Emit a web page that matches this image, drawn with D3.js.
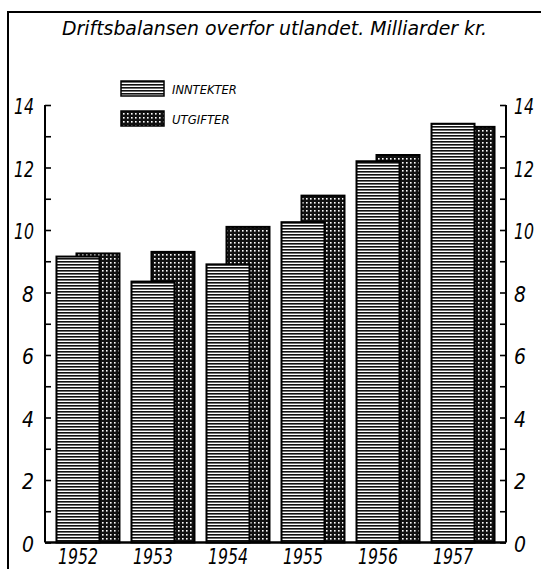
<!DOCTYPE html>
<html>
<head>
<meta charset="utf-8">
<script src="https://cdn.jsdelivr.net/npm/d3@7"></script>
<style>
  body { margin: 0; background: #fff; }
  text { font-family: "DejaVu Sans", sans-serif; font-style: oblique; fill: #000; }
</style>
</head>
<body>
<div id="chart"></div>
<script>
// data (milliarder kr.)
let years = ["1952", "1953", "1954", "1955", "1956", "1957"];
let inntekter = [9.15, 8.35, 8.9, 10.25, 12.2, 13.4];
let utgifter = [9.25, 9.3, 10.1, 11.1, 12.4, 13.3];
let labelTicks = [0, 2, 4, 6, 8, 10, 12, 14];
let titleText = "Driftsbalansen overfor utlandet. Milliarder kr.";

let w = 541;
let h = 569;
let plot = {left: 45, right: 506, top: 105, bottom: 542.5};

let svg = d3.select("#chart").append("svg")
    .attr("width", w)
    .attr("height", h);

let defs = svg.append("defs");

// horizontal hatching for inntekter
let pLines = defs.append("pattern")
    .attr("id", "lines")
    .attr("patternUnits", "userSpaceOnUse")
    .attr("width", 6).attr("height", 3);
pLines.append("rect").attr("width", 6).attr("height", 3).attr("fill", "#fff");
pLines.append("rect").attr("width", 6).attr("height", 1.6).attr("fill", "#111");

// dense grid for utgifter
let pGrid = defs.append("pattern")
    .attr("id", "grid")
    .attr("patternUnits", "userSpaceOnUse")
    .attr("width", 4).attr("height", 4);
pGrid.append("rect").attr("width", 4).attr("height", 4).attr("fill", "#111");
pGrid.append("rect").attr("x", 2).attr("y", 2).attr("width", 1.6).attr("height", 1.6).attr("fill", "#fff");

// frame
svg.append("path")
    .attr("d", "M8," + h + " L8,12 L" + w + ",12")
    .attr("fill", "none")
    .attr("stroke", "#000")
    .attr("stroke-width", 2);

// title
svg.append("text")
    .attr("x", 62)
    .attr("y", 35)
    .attr("textLength", 425)
    .attr("lengthAdjust", "spacingAndGlyphs")
    .style("font-size", "20px")
    .text(titleText);

let x = d3.scaleBand()
    .domain(years)
    .range([plot.left, plot.right])
    .paddingInner(0.16)
    .paddingOuter(0.153);

let y = d3.scaleLinear()
    .domain([0, 14])
    .range([plot.bottom, plot.top]);

let barW = x.bandwidth() * 43 / 63;

// utgifter behind, shifted right
svg.selectAll("rect.utg")
    .data(utgifter)
    .enter()
    .append("rect")
    .attr("class", "utg")
    .attr("x", function(d, i) { return x(years[i]) + x.bandwidth() - barW; })
    .attr("y", function(d) { return y(d); })
    .attr("width", barW)
    .attr("height", function(d) { return y(0) - y(d); })
    .attr("fill", "url(#grid)")
    .attr("stroke", "#000")
    .attr("stroke-width", 2);

svg.selectAll("rect.inn")
    .data(inntekter)
    .enter()
    .append("rect")
    .attr("class", "inn")
    .attr("x", function(d, i) { return x(years[i]); })
    .attr("y", function(d) { return y(d); })
    .attr("width", barW)
    .attr("height", function(d) { return y(0) - y(d); })
    .attr("fill", "url(#lines)")
    .attr("stroke", "#000")
    .attr("stroke-width", 2);

// axes: minor ticks every unit, pointing inwards
let tickAxisL = d3.axisRight(y).ticks(14).tickSize(6).tickFormat("");
let tickAxisR = d3.axisLeft(y).ticks(14).tickSize(6).tickFormat("");

let gl = svg.append("g").attr("transform", "translate(" + plot.left + ",0)").call(tickAxisL);
let gr = svg.append("g").attr("transform", "translate(" + plot.right + ",0)").call(tickAxisR);
[gl, gr].forEach(function(g) {
    g.select(".domain").attr("stroke-width", 2).attr("d", function() {
        return "M0," + y(14) + "V" + y(0);
    });
    g.selectAll(".tick line").attr("stroke-width", 1.6);
});

// baseline
svg.append("line")
    .attr("x1", plot.left).attr("x2", plot.right)
    .attr("y1", y(0)).attr("y2", y(0))
    .attr("stroke", "#000")
    .attr("stroke-width", 2.5);

function labW(d) { return String(d).length > 1 ? 20 : 12; }

// value labels, both sides
svg.selectAll("text.ylabL")
    .data(labelTicks)
    .enter()
    .append("text")
    .attr("class", "ylabL")
    .attr("x", function(d) { return 34 - labW(d); })
    .attr("y", function(d) { return y(d) + 9; })
    .attr("textLength", labW)
    .attr("lengthAdjust", "spacingAndGlyphs")
    .style("font-size", "21px")
    .text(function(d) { return d; });

svg.selectAll("text.ylabR")
    .data(labelTicks)
    .enter()
    .append("text")
    .attr("class", "ylabR")
    .attr("x", 514)
    .attr("y", function(d) { return y(d) + 9; })
    .attr("textLength", labW)
    .attr("lengthAdjust", "spacingAndGlyphs")
    .style("font-size", "21px")
    .text(function(d) { return d; });

// year labels under the inntekter bars
svg.selectAll("text.year")
    .data(years)
    .enter()
    .append("text")
    .attr("class", "year")
    .attr("x", function(d) { return x(d) + barW / 2 - 20; })
    .attr("y", 564)
    .attr("textLength", 40)
    .attr("lengthAdjust", "spacingAndGlyphs")
    .style("font-size", "22px")
    .text(function(d) { return d; });

// legend
let legendItems = [
    {name: "INNTEKTER", fill: "url(#lines)"},
    {name: "UTGIFTER", fill: "url(#grid)"}
];
let legend = svg.selectAll("g.legend")
    .data(legendItems)
    .enter()
    .append("g")
    .attr("class", "legend")
    .attr("transform", function(d, i) { return "translate(121," + (81 + i * 30) + ")"; });
legend.append("rect")
    .attr("width", 43)
    .attr("height", 15)
    .attr("fill", function(d) { return d.fill; })
    .attr("stroke", "#000")
    .attr("stroke-width", 1.5);
legend.append("text")
    .attr("x", 51)
    .attr("y", 13)
    .style("font-size", "12px")
    .attr("textLength", function(d) { return d.name.length * 7.2; })
    .attr("lengthAdjust", "spacingAndGlyphs")
    .text(function(d) { return d.name; });
</script>
</body>
</html>
